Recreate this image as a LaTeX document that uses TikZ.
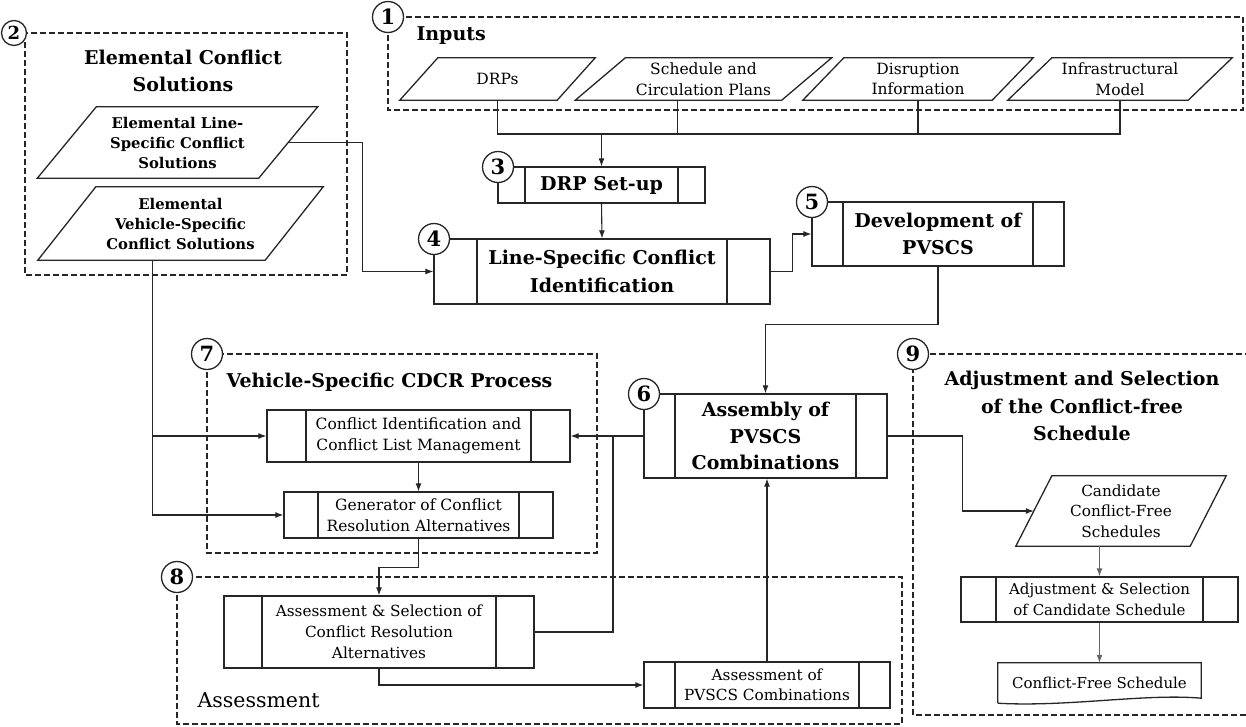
\documentclass[tikz,border=0pt]{standalone}
\usepackage{fontspec}
\setmainfont{DejaVu Serif}
\usetikzlibrary{arrows.meta,calc}
\newcommand\fs[2]{\fontsize{#1}{#2}\selectfont}
\newcommand\pgram[8]{%
  \node[ptext, minimum width=#4pt, minimum height=#5pt, font=#8] (#1) at (#2,#3) {#7};
  \draw[bline] ([xshift={-0.5*#6}]#1.south west) -- ([xshift={-0.5*#6}]#1.south east) -- ([xshift={0.5*#6}]#1.north east) -- ([xshift={0.5*#6}]#1.north west) -- cycle;}
\tikzset{
  bline/.style={line width=1.3pt, draw=black!85},
  grp/.style={draw=black!85, line width=1.7pt, dash pattern=on 6pt off 3pt},
  numc/.style={circle, draw=black!85, fill=white, line width=1.3pt, minimum size=31pt, inner sep=0pt, font=\fs{21}{21}\bfseries},
  ptext/.style={rectangle, inner sep=0pt, align=center},
  procbase/.style={draw=black!85, rectangle, line width=1.3pt, inner sep=0pt, align=center, fill=white},
  proc/.style={procbase, path picture={
     \draw[line width=1.3pt, black!85] ([xshift=#1]path picture bounding box.north west) -- ([xshift=#1]path picture bounding box.south west);
     \draw[line width=1.3pt, black!85] ([xshift=-#1]path picture bounding box.north east) -- ([xshift=-#1]path picture bounding box.south east);}},
  arr/.style={-{Latex[length=8pt,width=6pt]}, line width=1.1pt, draw=black!85},
  con/.style={line width=1.1pt, draw=black!85},
  bigb/.style={font=\fs{19}{27.5}\bfseries},
  small/.style={font=\fs{15.5}{20.5}},
}
\begin{document}
\begin{tikzpicture}[x=1pt,y=-1pt]
\useasboundingbox (0,0) rectangle (1246,726);
% ---------- group frames
\draw[grp] (388,17) rectangle (1243,110);
\draw[grp] (25,33) rectangle (347,275);
\draw[grp] (207,354) rectangle (597,553);
\draw[grp] (177,577) rectangle (902,724);
\draw[grp] (1260,354) -- (913,354) -- (913,715) -- (1260,715);
% ---------- titles
\node[anchor=west, bigb] (tin) at (413,36) {Inputs};
\node[bigb, align=center] (tels) at (183,71) {Elemental Conflict\\Solutions};
\node[bigb] (tveh) at (389.5,382) {Vehicle-Specific CDCR Process};
\node[anchor=west, font=\fs{20.5}{22}] (tass) at (194,700) {Assessment};
\node[bigb, align=center] (tadj) at (1082,406) {Adjustment and Selection\\of the Conflict-free\\Schedule};
% ---------- inputs
\pgram{drps}{497.5}{79}{157}{42}{38}{DRPs}{\fs{15.5}{20.5}}
\pgram{sched}{703.5}{79}{206}{42}{50}{Schedule and\\Circulation Plans}{\fs{15.5}{20.5}}
\pgram{disr}{918}{79}{189}{42}{41}{Disruption\\Information}{\fs{15.5}{20.5}}
\pgram{infra}{1120}{79}{180}{42}{44}{Infrastructural\\Model}{\fs{15.5}{20.5}}
% ---------- elemental solutions
\pgram{els1}{177.5}{142.5}{221}{71}{59}{Elemental Line-\\Specific Conflict\\Solutions}{\fs{14.8}{20}\bfseries}
\pgram{els2}{180.5}{223.5}{227}{73}{58}{Elemental\\Vehicle-Specific\\Conflict Solutions}{\fs{14.8}{20}\bfseries}
% ---------- process boxes
\node[proc=27pt, minimum width=207pt, minimum height=36pt, font=\fs{19}{27}\bfseries] (drp) at (601.5,185) {DRP Set-up};
\node[proc=43pt, minimum width=336pt, minimum height=65pt, font=\fs{19}{28}\bfseries] (lsci) at (602,271.5) {Line-Specific Conflict\\Identification};
\node[proc=31pt, minimum width=252pt, minimum height=64pt, font=\fs{19}{27}\bfseries] (dev) at (938,234) {Development of\\PVSCS};
\node[proc=31pt, minimum width=243pt, minimum height=84pt, font=\fs{19}{26.5}\bfseries] (asm) at (765.5,436) {Assembly of\\PVSCS\\Combinations};
\node[proc=39pt, minimum width=303pt, minimum height=52pt, small] (ci) at (418.5,436) {Conflict Identification and\\Conflict List Management};
\node[proc=34pt, minimum width=269pt, minimum height=46pt, small] (gen) at (418.5,515) {Generator of Conflict\\Resolution Alternatives};
\node[proc=38pt, minimum width=310pt, minimum height=72pt, font=\fs{15.3}{21}] (as) at (379,632) {Assessment \& Selection of\\Conflict Resolution\\Alternatives};
\node[proc=31pt, minimum width=246pt, minimum height=46pt, font=\fs{15.3}{20.5}] (apc) at (767,685) {Assessment of\\PVSCS Combinations};
\pgram{cand}{1121}{511}{174}{70}{36}{Candidate\\Conflict-Free\\Schedules}{\fs{15.3}{20.5}}
\node[proc=35pt, minimum width=277pt, minimum height=45pt, font=\fs{15}{20.5}] (adj) at (1099.5,599.5) {Adjustment \& Selection\\of Candidate Schedule};
\node[ptext, minimum width=203pt, minimum height=40pt, font=\fs{15}{20}] (cfs) at (1099.5,683) {Conflict-Free Schedule};
\draw[bline] (cfs.south west) -- (cfs.north west) -- (cfs.north east) -- ([yshift=5pt]cfs.south east)
   .. controls ([xshift=-55pt,yshift=10pt]cfs.south east) and ([xshift=70pt,yshift=-4pt]cfs.south west) .. (cfs.south west);
% ---------- connectors
\coordinate (j1) at (601.5,134);
\draw[con] (drps.south) -- (drps.south |- j1) -- (infra.south |- j1) -- (infra.south);
\draw[con] ([xshift=-26pt]sched.south) -- ([xshift=-26pt]sched.south |- j1);
\draw[con] (disr.south) -- (disr.south |- j1);
\draw[arr] (j1) -- (drp.north);
\draw[arr] (drp.south) -- (lsci.north);
\draw[arr] (lsci.east) -- ++(22,0) |- (dev.west);
\draw[arr] (dev.south) -- ++(0,58) -| (asm.north);
\draw[arr] (els1.east) -- ++(74.5,0) |- (lsci.west);
\coordinate (v0) at ([xshift=-28pt]els2.south);
\draw[arr] (v0) |- (ci.west);
\draw[arr] (v0) |- (gen.west);
\draw[arr] (ci.south) -- (gen.north);
\draw[arr] (gen.south) -- ++(0,29) -| (as.north);
\draw[arr] (asm.west) -- (ci.east);
\coordinate (j2) at (613,436);
\draw[con] (as.east) -| (j2);
\draw[arr] (as.south) |- (apc.west);
\draw[arr] (apc.north) -- (apc.north |- asm.south);
\draw[arr] (asm.east) -- ++(75,0) |- (cand.west);
\draw[arr, draw=black!60] (adj.north |- cand.south) -- (adj.north);
\draw[arr, draw=black!60] (adj.south) -- (cfs.north);
% ---------- number circles
\node[numc] (n1) at (388,17) {1};
\node[numc, minimum size=25pt, font=\fs{18}{18}\bfseries] (n2) at (14,33) {2};
\node[numc] (n3) at (498,167) {3};
\node[numc] (n4) at (434,239) {4};
\node[numc] (n5) at (812,202) {5};
\node[numc] (n6) at (644,394) {6};
\node[numc] (n7) at (207,354) {7};
\node[numc] (n8) at (177,577) {8};
\node[numc] (n9) at (913,354) {9};
\end{tikzpicture}
\end{document}
